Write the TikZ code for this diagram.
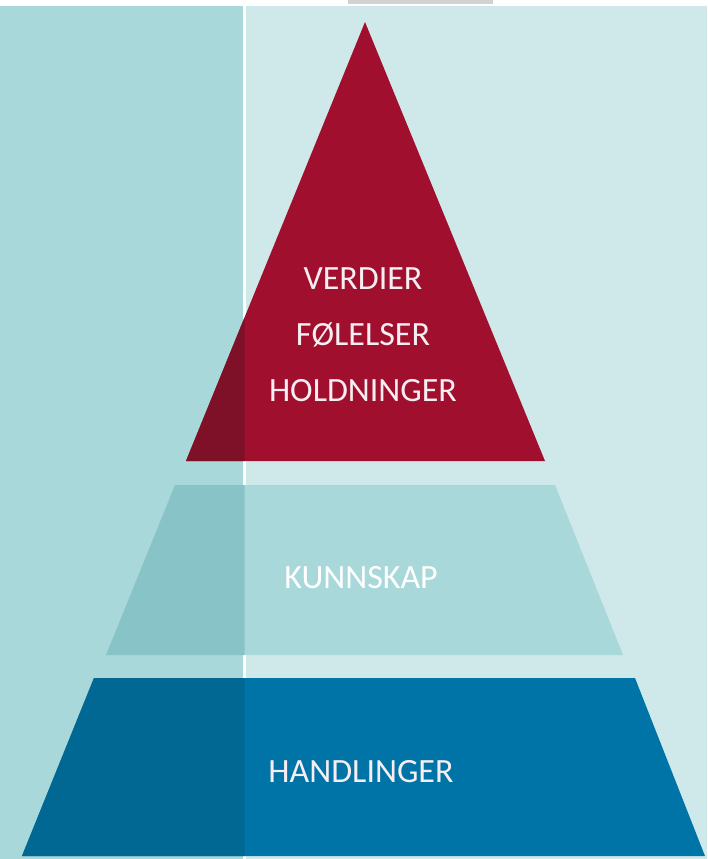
\documentclass[tikz,border=0pt]{standalone}
\usepackage{fontspec}
\setmainfont{Carlito}
\definecolor{panelL}{HTML}{A8D8DA}
\definecolor{panelR}{HTML}{CFE9EA}
\definecolor{redR}{HTML}{A00F2D}
\definecolor{redL}{HTML}{7E1128}
\definecolor{midR}{HTML}{A8D8DA}
\definecolor{midL}{HTML}{88C4C7}
\definecolor{blueR}{HTML}{0074A6}
\definecolor{blueL}{HTML}{006893}
\definecolor{label}{HTML}{F6EEF2}
\tikzset{
    layertext/.style={text=label, align=center, font=\fontsize{34}{56}\selectfont}
}
\begin{document}
\begin{tikzpicture}[x=1pt,y=-1pt]
    \fill[white] (0,0) rectangle (707,859);
    \useasboundingbox (0,0) rectangle (707,859);
    % background panels
    \fill[panelL] (0,6) rectangle (243,859);
    \fill[panelR] (246,6) rectangle (707,859);
    \fill[gray!35] (348,0) rectangle (493,4);
    % pyramid layers, darker left of the divider
    \foreach \yt/\yb/\xtl/\xtr/\xbl/\xbr/\cr/\cl in
        {22/461/365/365/186/545/redR/redL,
         485/655/175/555/106/623/midR/midL,
         678/856/94/635/22/705/blueR/blueL}
    {
        \fill[\cr] (\xtl,\yt) -- (\xtr,\yt) -- (\xbr,\yb) -- (\xbl,\yb) -- cycle;
        \begin{scope}
            \clip (0,0) rectangle (244.5,859);
            \fill[\cl] (\xtl,\yt) -- (\xtr,\yt) -- (\xbr,\yb) -- (\xbl,\yb) -- cycle;
        \end{scope}
    }
    \node[layertext] (verdier) at (363,335) {VERDIER\\FØLELSER\\HOLDNINGER};
    \node[layertext, text=white] (kunnskap) at (361,578) {KUNNSKAP};
    \node[layertext] (handlinger) at (361,772) {HANDLINGER};
\end{tikzpicture}
\end{document}
